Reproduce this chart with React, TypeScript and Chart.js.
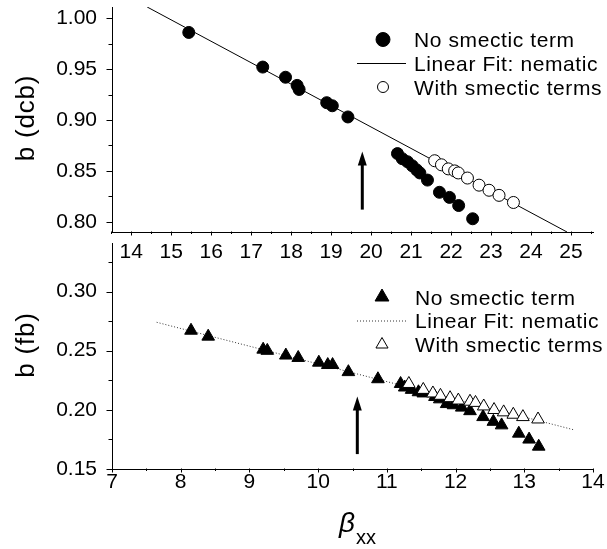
import React, { useEffect, useRef } from 'react';
import { Chart, registerables } from 'chart.js';
Chart.register(...registerables);

const FONT = "'Liberation Sans', Arial, sans-serif";

// ---------- top panel (dcb) ----------
const topNoSmecticX = [15.44, 17.29, 17.86, 18.15, 18.2, 18.89, 19.03, 19.42, 20.66, 20.78, 20.91, 21.03, 21.14, 21.22, 21.41, 21.71, 21.96, 22.19, 22.54];
const topNoSmecticY = [0.986, 0.952, 0.942, 0.934, 0.930, 0.917, 0.914, 0.903, 0.867, 0.862, 0.859, 0.855, 0.851, 0.848, 0.841, 0.829, 0.824, 0.816, 0.803];
const topSmecticX = [21.59, 21.76, 21.93, 22.09, 22.18, 22.41, 22.70, 22.95, 23.20, 23.56];
const topSmecticY = [0.860, 0.856, 0.852, 0.850, 0.848, 0.843, 0.836, 0.831, 0.826, 0.819];
const topFitX = [14.4, 24.9];
const topFitY = [1.011, 0.790];
const topArrowX = 19.78;
const topArrowY = [0.812, 0.869];
const topXTicks = [14, 15, 16, 17, 18, 19, 20, 21, 22, 23, 24, 25];
const topXMinor = [13.5, 14.5, 15.5, 16.5, 17.5, 18.5, 19.5, 20.5, 21.5, 22.5, 23.5, 24.5, 25.5];
const topYTicks = [0.80, 0.85, 0.90, 0.95, 1.00];
const topYMinor = [0.825, 0.875, 0.925, 0.975];
const topXRange = [13.52, 25.55];
const topYRange = [0.79, 1.011];

// ---------- bottom panel (fb) ----------
const botNoSmecticX = [8.15, 8.40, 9.20, 9.26, 9.53, 9.71, 10.01, 10.14, 10.21, 10.44, 10.87, 11.20, 11.26, 11.36, 11.46, 11.53, 11.70, 11.77, 11.87, 11.97, 12.09, 12.21, 12.40, 12.55, 12.67, 12.92, 13.07, 13.21];
const botNoSmecticY = [0.267, 0.262, 0.251, 0.250, 0.246, 0.244, 0.240, 0.238, 0.238, 0.232, 0.226, 0.222, 0.219, 0.217, 0.215, 0.214, 0.211, 0.209, 0.205, 0.204, 0.202, 0.199, 0.194, 0.190, 0.187, 0.180, 0.175, 0.169];
const botSmecticX = [11.32, 11.53, 11.67, 11.78, 11.92, 12.04, 12.21, 12.29, 12.41, 12.56, 12.70, 12.84, 12.98, 13.20];
const botSmecticY = [0.222, 0.217, 0.214, 0.212, 0.210, 0.208, 0.207, 0.206, 0.203, 0.200, 0.198, 0.196, 0.194, 0.192];
const botFitX = [7.65, 13.73];
const botFitY = [0.274, 0.183];
const botArrowX = 10.57;
const botArrowY = [0.1626, 0.2113];
const botXTicks = [7, 8, 9, 10, 11, 12, 13, 14];
const botXMinor = [7.5, 8.5, 9.5, 10.5, 11.5, 12.5, 13.5];
const botYTicks = [0.15, 0.20, 0.25, 0.30];
const botYMinor = [0.175, 0.225, 0.275, 0.325];
const botXRange = [7, 14];
const botYRange = [0.15, 0.341];

const legendLabels = ['No smectic term', 'Linear Fit: nematic', 'With smectic terms'];
const topYTitle = 'b (dcb)';
const botYTitle = 'b (fb)';
const xTitleMain = 'β';
const xTitleSub = 'xx';

const pts = (xs: number[], ys: number[]) => xs.map((x, i) => ({ x, y: ys[i] }));

type PanelSpec = {
  area: { left: number; right: number; top: number; bottom: number };
  xRange: number[]; yRange: number[];
  xTicks: number[]; xMinor: number[]; yTicks: number[]; yMinor: number[];
  xDecimals: number;
  xTickLen: number; xPad: number;
  marker: string; markerR: number; legendR: number[];
  noX: number[]; noY: number[]; smX: number[]; smY: number[]; fitX: number[]; fitY: number[];
  fitDash: number[]; fitColor: string;
  arrowX: number; arrowY: number[];
  legend: { rows: number[]; markerX: number; lineX: number[]; textX: number };
  yTitle: string; yTitleY: number;
  drawXTitle: boolean;
};

function drawMarker(ctx: CanvasRenderingContext2D, style: string, x: number, y: number, r: number, filled: boolean) {
  ctx.beginPath();
  if (style === 'circle') {
    ctx.arc(x, y, r, 0, Math.PI * 2);
  } else {
    ctx.moveTo(x, y - r);
    ctx.lineTo(x + 0.866 * r, y + 0.5 * r);
    ctx.lineTo(x - 0.866 * r, y + 0.5 * r);
    ctx.closePath();
  }
  ctx.fillStyle = filled ? '#000' : '#fff';
  ctx.fill();
  ctx.lineWidth = 1;
  ctx.strokeStyle = '#000';
  ctx.stroke();
}

function makeDecor(p: PanelSpec) {
  return {
    id: 'panelDecor',
    afterDraw(chart: any) {
      const { ctx, chartArea: ca } = chart;
      const xs = chart.scales.x;
      const ys = chart.scales.y;
      ctx.save();
      ctx.strokeStyle = '#000';
      ctx.lineWidth = 1;
      const bottomY = Math.round(ca.bottom) - 0.5;
      const leftX = Math.round(ca.left) + 0.5;
      const xt = (v: number, len: number) => {
        const px = Math.round(xs.getPixelForValue(v)) + 0.5;
        ctx.beginPath(); ctx.moveTo(px, bottomY); ctx.lineTo(px, bottomY + len); ctx.stroke();
      };
      const yt = (v: number, len: number) => {
        const py = Math.round(ys.getPixelForValue(v)) + 0.5;
        ctx.beginPath(); ctx.moveTo(leftX, py); ctx.lineTo(leftX - len, py); ctx.stroke();
      };
      p.xTicks.forEach(v => xt(v, 4));
      p.xMinor.forEach(v => { if (v <= p.xRange[1]) xt(v, 2.5); });
      p.yTicks.forEach(v => yt(v, 6));
      p.yMinor.forEach(v => { if (v <= p.yRange[1]) yt(v, 4); });

      // arrow
      const ax = xs.getPixelForValue(p.arrowX);
      const ay0 = ys.getPixelForValue(p.arrowY[0]);
      const ay1 = ys.getPixelForValue(p.arrowY[1]);
      ctx.fillStyle = '#000';
      ctx.lineWidth = 3;
      ctx.beginPath(); ctx.moveTo(ax, ay0); ctx.lineTo(ax, ay1 + 10); ctx.stroke();
      ctx.beginPath();
      ctx.moveTo(ax, ay1);
      ctx.lineTo(ax + 4.5, ay1 + 14);
      ctx.lineTo(ax - 4.5, ay1 + 14);
      ctx.closePath();
      ctx.fill();

      // legend
      const L = p.legend;
      drawMarker(ctx, p.marker, L.markerX, L.rows[0], p.legendR[0], true);
      ctx.save();
      ctx.lineWidth = 1;
      ctx.strokeStyle = p.fitColor;
      ctx.setLineDash(p.fitDash);
      ctx.beginPath(); ctx.moveTo(L.lineX[0], L.rows[1] + 0.5); ctx.lineTo(L.lineX[1], L.rows[1] + 0.5); ctx.stroke();
      ctx.restore();
      drawMarker(ctx, p.marker, L.markerX, L.rows[2], p.legendR[1], false);
      ctx.fillStyle = '#000';
      ctx.font = `21px ${FONT}`;
      (ctx as any).letterSpacing = '0.6px';
      ctx.textAlign = 'left';
      ctx.textBaseline = 'alphabetic';
      legendLabels.forEach((t, i) => ctx.fillText(t, L.textX, L.rows[i] + 7.5));

      // y title
      ctx.save();
      ctx.translate(27, p.yTitleY);
      ctx.rotate(-Math.PI / 2);
      ctx.font = `26px ${FONT}`;
      (ctx as any).letterSpacing = '0.8px';
      ctx.textAlign = 'center';
      ctx.textBaseline = 'middle';
      ctx.fillText(p.yTitle, 0, 0);
      ctx.restore();

      if (p.drawXTitle) {
        (ctx as any).letterSpacing = '0px';
        ctx.textAlign = 'left';
        ctx.textBaseline = 'alphabetic';
        ctx.font = `italic 28px ${FONT}`;
        ctx.fillText(xTitleMain, 339, 532);
        ctx.font = `20px ${FONT}`;
        ctx.fillText(xTitleSub, 356, 544);
      }
      ctx.restore();
    },
  };
}

function makeConfig(p: PanelSpec): any {
  const W = 607, H = 549;
  const tickFont = { family: FONT, size: 21 };
  return {
    type: 'scatter',
    data: {
      datasets: [
        {
          data: pts(p.smX, p.smY), pointStyle: p.marker, pointRadius: p.markerR,
          pointBackgroundColor: '#fff', pointBorderColor: '#000', pointBorderWidth: 1, showLine: false,
        },
        {
          data: pts(p.noX, p.noY), pointStyle: p.marker, pointRadius: p.markerR,
          pointBackgroundColor: '#000', pointBorderColor: '#000', pointBorderWidth: 1, showLine: false,
        },
        {
          data: pts(p.fitX, p.fitY), showLine: true, pointRadius: 0, borderColor: p.fitColor,
          borderWidth: 1, borderDash: p.fitDash, fill: false,
        },
      ],
    },
    options: {
      responsive: false,
      animation: false,
      devicePixelRatio: 1,
      layout: { padding: { left: 0, right: W - p.area.right, top: p.area.top, bottom: H - p.area.bottom - 30 } },
      plugins: { legend: { display: false }, tooltip: { enabled: false } },
      scales: {
        x: {
          type: 'linear', position: 'bottom', min: p.xRange[0], max: p.xRange[1],
          afterFit: (s: any) => { s.height = 30; s.paddingLeft = 0; s.paddingRight = 0; },
          afterBuildTicks: (s: any) => { s.ticks = p.xTicks.map(v => ({ value: v })); },
          ticks: {
            autoSkip: false, maxRotation: 0, color: '#000', font: tickFont, padding: p.xPad,
            callback: (v: number) => v.toFixed(p.xDecimals),
          },
          grid: { display: false, drawTicks: true, tickLength: p.xTickLen },
          border: { display: true, color: '#000', width: 1 },
        },
        y: {
          type: 'linear', min: p.yRange[0], max: p.yRange[1],
          afterFit: (s: any) => { s.width = p.area.left; s.paddingTop = 0; s.paddingBottom = 0; },
          afterBuildTicks: (s: any) => { s.ticks = p.yTicks.map(v => ({ value: v })); },
          ticks: {
            autoSkip: false, color: '#000', font: tickFont, padding: 9,
            callback: (v: number) => v.toFixed(2),
          },
          grid: { display: false, drawTicks: true, tickLength: 6 },
          border: { display: true, color: '#000', width: 1 },
        },
      },
    },
    plugins: [makeDecor(p)],
  };
}

const topSpec: PanelSpec = {
  area: { left: 112, right: 593, top: 7, bottom: 232 },
  xRange: topXRange, yRange: topYRange,
  xTicks: topXTicks, xMinor: topXMinor, yTicks: topYTicks, yMinor: topYMinor,
  xDecimals: 0, xTickLen: 4, xPad: 4,
  marker: 'circle', markerR: 6, legendR: [7, 5.5],
  noX: topNoSmecticX, noY: topNoSmecticY, smX: topSmecticX, smY: topSmecticY, fitX: topFitX, fitY: topFitY,
  fitDash: [], fitColor: '#000',
  arrowX: topArrowX, arrowY: topArrowY,
  legend: { rows: [39.5, 63, 87], markerX: 383, lineX: [357, 406], textX: 414 },
  yTitle: topYTitle, yTitleY: 118,
  drawXTitle: false,
};

const botSpec: PanelSpec = {
  area: { left: 112, right: 593, top: 243, bottom: 469 },
  xRange: botXRange, yRange: botYRange,
  xTicks: botXTicks, xMinor: botXMinor, yTicks: botYTicks, yMinor: botYMinor,
  xDecimals: 0, xTickLen: 0, xPad: 1,
  marker: 'triangle', markerR: 7.3, legendR: [8, 7],
  noX: botNoSmecticX, noY: botNoSmecticY, smX: botSmecticX, smY: botSmecticY, fitX: botFitX, fitY: botFitY,
  fitDash: [1, 2], fitColor: '#333',
  arrowX: botArrowX, arrowY: botArrowY,
  legend: { rows: [297, 320.5, 344.5], markerX: 382, lineX: [357, 407], textX: 415 },
  yTitle: botYTitle, yTitleY: 345,
  drawXTitle: true,
};

function Panel({ spec }: { spec: PanelSpec }) {
  const ref = useRef<HTMLCanvasElement>(null);
  useEffect(() => {
    if (!ref.current) return;
    const chart = new Chart(ref.current, makeConfig(spec));
    return () => chart.destroy();
  }, [spec]);
  return (
    <canvas
      ref={ref}
      width={607}
      height={549}
      style={{ position: 'absolute', left: 0, top: 0, width: 607, height: 549 }}
    />
  );
}

export default function App() {
  return (
    <div style={{ position: 'absolute', left: 0, top: 0, width: 607, height: 549, background: '#fff' }}>
      <Panel spec={topSpec} />
      <Panel spec={botSpec} />
    </div>
  );
}
